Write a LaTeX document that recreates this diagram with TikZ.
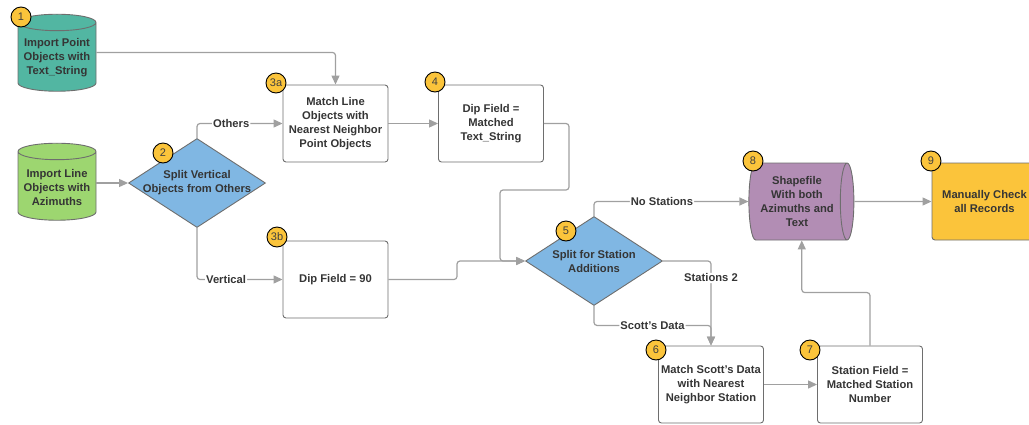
\documentclass[tikz,border=0pt]{standalone}
\usepackage{fontspec}
\setmainfont{Liberation Sans}
\usetikzlibrary{positioning,arrows.meta,shapes.geometric}
\definecolor{flowteal}{HTML}{52B6A2}
\definecolor{flowgreen}{HTML}{9DD670}
\definecolor{flowblue}{HTML}{80B7E3}
\definecolor{flowpurple}{HTML}{B28DB4}
\definecolor{flowgold}{HTML}{FBC43B}
\definecolor{flowline}{HTML}{A0A0A0}
\definecolor{flowedge}{HTML}{6E6E6E}
\definecolor{flowtext}{HTML}{353535}
\tikzset{
    every node/.style={font=\fontsize{11.2}{14}\selectfont\bfseries,text=flowtext},
    stepbox/.style={rectangle,rounded corners=3pt,draw=flowedge,fill=white,line width=0.9pt,minimum width=105pt,minimum height=77pt,align=center,inner sep=1pt},
    datacyl/.style={cylinder,shape border rotate=90,aspect=0.24,draw=flowedge,line width=0.9pt,minimum width=78pt,minimum height=77pt,align=center,inner sep=1pt},
    decide/.style={diamond,draw=flowedge,fill=flowblue,line width=0.9pt,minimum width=137pt,minimum height=89pt,inner sep=0pt},
    badge/.style={circle,draw=black,fill=flowgold,line width=0.9pt,minimum size=20pt,inner sep=0pt,font=\fontsize{11}{11}\selectfont,text=black!75},
    link/.style={draw=flowline,line width=1.2pt,rounded corners=3pt,-{Triangle[length=9pt,width=8pt]}},
    linklabel/.style={fill=white,inner sep=1pt}
}
\begin{document}
\begin{tikzpicture}[x=1pt,y=-1pt]
\useasboundingbox (0,0) rectangle (1029,424);
% data sources
\node[datacyl,fill=flowteal] (pts) at (57,58) {Import Point\\Objects with\\Text\_String};
\node[datacyl,fill=flowgreen] (lns) at (57,187) {Import Line\\Objects with\\Azimuths};
% splits and steps
\node[decide,label={[align=center]center:Split Vertical\\Objects from Others}] (split) at (197,183) {};
\node[stepbox] (match) at (335.5,123.5) {Match Line\\Objects with\\Nearest Neighbor\\Point Objects};
\node[stepbox] (dipstr) at (491,123.5) {Dip Field =\\Matched\\Text\_String};
\node[stepbox] (dipninety) at (335.5,279.5) {Dip Field = 90};
\node[decide,label={[align=center]center:Split for Station\\Additions}] (station) at (594,261) {};
\node[stepbox] (scott) at (711,384.5) {Match Scott's Data\\with Nearest\\Neighbor Station};
\node[stepbox] (stnfield) at (870,384.5) {Station Field =\\Matched Station\\Number};
\node[datacyl,shape border rotate=0,aspect=0.26,fill=flowpurple,minimum width=77pt,minimum height=105pt] (shp) at (797,201.5) {Shapefile\\With both\\Azimuths and\\Text};
\node[stepbox,fill=flowgold] (check) at (984.5,201.5) {Manually Check\\all Records};

% connectors
\draw[link] (pts.8) -| (match.north);
\draw[link] (lns.0 |- split.west) -- (split.west);
\draw[link] (split.north) |- node[linklabel,pos=0.7]{Others} (match.west);
\draw[link] (split.south) |- node[linklabel,pos=0.67]{Vertical} (dipninety.west);
\draw[link] (match.east) -- (dipstr.west);
\draw[link] (dipstr.east) -| (569,190) -- (500,190) -- (500,261) -- (station.west);
\draw[link] (dipninety.east) -| (457,261) -- (station.west);
\draw[link] (station.north) |- node[linklabel,pos=0.72]{No Stations} (shp.west);
\draw[link] (station.east) -| node[linklabel,pos=0.6]{Stations 2} (scott.north);
\draw[link] (station.south) -- ++(0,19.5) -| node[linklabel,pos=0.25]{Scott's Data} (scott.north);
\draw[link] (scott.east) -- (stnfield.west);
\draw[link] (stnfield.north) -- ++(0,-53) -| (shp.277);
\draw[link] (shp.east) -- (check.west);

% step numbers
\node[badge] (b1) at (21,17) {1};
\node[badge] (b2) at (163,153) {2};
\node[badge] (b3a) at (276,83) {3a};
\node[badge] (b3b) at (277,237) {3b};
\node[badge] (b4) at (435,82) {4};
\node[badge] (b5) at (566,231) {5};
\node[badge] (b6) at (656,350) {6};
\node[badge] (b7) at (810,350) {7};
\node[badge] (b8) at (753,161) {8};
\node[badge] (b9) at (931,161) {9};
\end{tikzpicture}
\end{document}
